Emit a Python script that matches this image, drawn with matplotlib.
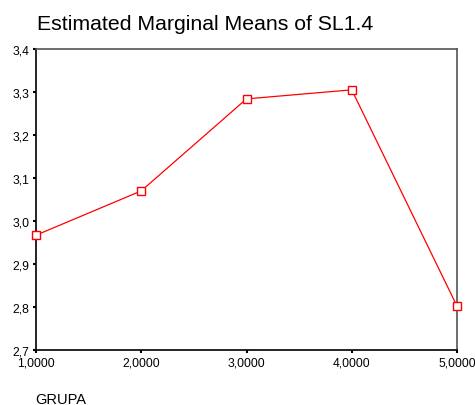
import matplotlib
matplotlib.use("Agg")
import matplotlib.pyplot as plt
from matplotlib.ticker import FuncFormatter

plt.rcParams['font.family'] = ['Liberation Sans', 'DejaVu Sans']

# estimated marginal means per group
grupa = [1, 2, 3, 4, 5]
means = [2.967, 3.070, 3.284, 3.305, 2.802]
yticks = [2.7, 2.8, 2.9, 3.0, 3.1, 3.2, 3.3, 3.4]

fig = plt.figure(figsize=(4.75, 4.06), dpi=100)
ax = fig.add_axes([36 / 475, 1 - 351 / 406, 421 / 475, 301 / 406])

ax.plot(grupa, means, color='red', lw=0.9, marker='s', ms=6,
        mfc='white', mec='red', mew=1.0, clip_on=False, zorder=3)

ax.set_xlim(1, 5)
ax.set_ylim(2.7, 3.4)
ax.set_xticks(grupa)
ax.set_yticks(yticks)
ax.xaxis.set_major_formatter(FuncFormatter(lambda v, p: f"{v:.4f}".replace('.', ',')))
ax.yaxis.set_major_formatter(FuncFormatter(lambda v, p: f"{v:.1f}".replace('.', ',')))
ax.tick_params(direction='out', length=2, width=1.5, labelsize=8.7)
ax.tick_params(axis='x', pad=3)
ax.tick_params(axis='y', pad=3)

for s in ['left', 'bottom']:
    ax.spines[s].set_color('black')
    ax.spines[s].set_linewidth(1.2)
for s in ['top', 'right']:
    ax.spines[s].set_color('#555555')
    ax.spines[s].set_linewidth(1.2)

fig.text(37 / 475, 1 - 30 / 406, 'Estimated Marginal Means of SL1.4', fontsize=15.3,
         ha='left', va='baseline')
fig.text(35 / 475, 1 - 404 / 406, 'GRUPA', fontsize=10.5, ha='left', va='baseline')

fig.savefig('out.png', dpi=100)
